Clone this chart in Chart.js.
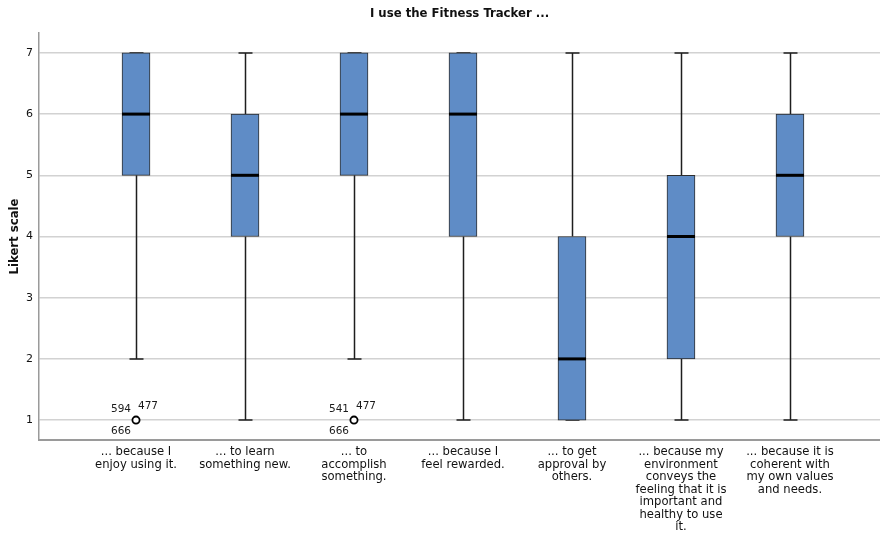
<!DOCTYPE html>
<html>
<head>
<meta charset="utf-8">
<script src="https://cdn.jsdelivr.net/npm/chart.js@4/dist/chart.umd.min.js"></script>
<style>
  html, body { margin: 0; padding: 0; background: #ffffff; }
  #wrap { width: 880px; height: 538px; }
</style>
</head>
<body>
<div id="wrap"><canvas id="c" width="880" height="538"></canvas></div>
<script>
// Item labels (multi-line) along the x axis
const categories = [
  ['... because I', 'enjoy using it.'],
  ['... to learn', 'something new.'],
  ['... to', 'accomplish', 'something.'],
  ['... because I', 'feel rewarded.'],
  ['... to get', 'approval by', 'others.'],
  ['... because my', 'environment', 'conveys the', 'feeling that it is', 'important and', 'healthy to use', 'it.'],
  ['... because it is', 'coherent with', 'my own values', 'and needs.']
];

// Five-number summaries per item
const whiskerLow  = [2, 1, 2, 1, 1, 1, 1];
const q1          = [5, 4, 5, 4, 1, 2, 4];
const median      = [6, 5, 6, 6, 2, 4, 5];
const q3          = [7, 6, 7, 7, 4, 5, 6];
const whiskerHigh = [7, 7, 7, 7, 7, 7, 7];

// Outliers: item index, value and case ids
const outlierCategory = [0, 2];
const outlierValue    = [1, 1];
const outlierIds      = [['594', '477', '666'], ['541', '477', '666']];

const yTicks = [1, 2, 3, 4, 5, 6, 7];

const boxData = categories.map((_, i) => ({ x: i, y: [q1[i], q3[i]] }));
const outlierData = outlierCategory.map((c, k) => ({ x: c, y: outlierValue[k] }));

// Whiskers, caps and medians drawn from the summary arrays
const boxExtras = {
  id: 'boxExtras',
  beforeDatasetsDraw(chart) {
    const { ctx, scales: { x, y } } = chart;
    ctx.save();
    ctx.strokeStyle = '#1e1e1e';
    ctx.lineWidth = 1.5;
    const capHalf = 7;
    categories.forEach((_, i) => {
      const px = Math.round(x.getPixelForValue(i)) + 0.5;
      const yLo = y.getPixelForValue(whiskerLow[i]);
      const yQ1 = y.getPixelForValue(q1[i]);
      const yQ3 = y.getPixelForValue(q3[i]);
      const yHi = y.getPixelForValue(whiskerHigh[i]);
      ctx.beginPath();
      ctx.moveTo(px, yQ1); ctx.lineTo(px, yLo);
      ctx.moveTo(px, yQ3); ctx.lineTo(px, yHi);
      ctx.moveTo(px - capHalf, yLo); ctx.lineTo(px + capHalf, yLo);
      ctx.moveTo(px - capHalf, yHi); ctx.lineTo(px + capHalf, yHi);
      ctx.stroke();
    });
    ctx.restore();
  },
  afterDatasetsDraw(chart) {
    const { ctx, scales: { x, y } } = chart;
    ctx.save();
    ctx.strokeStyle = '#000000';
    ctx.lineWidth = 3;
    const half = 14;
    categories.forEach((_, i) => {
      const px = x.getPixelForValue(i);
      const ym = y.getPixelForValue(median[i]);
      ctx.beginPath();
      ctx.moveTo(px - half, ym); ctx.lineTo(px + half, ym);
      ctx.stroke();
    });
    // case ids around each outlier point
    ctx.fillStyle = '#1a1a1a';
    ctx.font = '10.5px "DejaVu Sans", sans-serif';
    ctx.textAlign = 'center';
    ctx.textBaseline = 'middle';
    const meta = chart.getDatasetMeta(1);
    meta.data.forEach((pt, k) => {
      const ids = outlierIds[k];
      ctx.fillText(ids[0], pt.x - 15, pt.y - 11);
      ctx.fillText(ids[1], pt.x + 12, pt.y - 13.5);
      ctx.fillText(ids[2], pt.x - 15, pt.y + 11);
    });
    ctx.restore();
  }
};

new Chart(document.getElementById('c'), {
  type: 'bar',
  data: {
    datasets: [
      {
        label: 'IQR',
        data: boxData,
        backgroundColor: '#5f8cc6',
        borderColor: '#2e2e2e',
        borderWidth: 1,
        borderSkipped: false,
        barThickness: 28,
        order: 2
      },
      {
        type: 'scatter',
        label: 'Outliers',
        data: outlierData,
        pointStyle: 'circle',
        pointRadius: 3.6,
        pointBackgroundColor: '#ffffff',
        pointBorderColor: '#000000',
        pointBorderWidth: 1.8,
        order: 1
      }
    ]
  },
  options: {
    responsive: false,
    animation: false,
    layout: { padding: 0, autoPadding: false },
    plugins: {
      legend: { display: false },
      tooltip: { enabled: false },
      title: {
        display: true,
        text: 'I use the Fitness Tracker ...',
        fullSize: false,
        color: '#111111',
        font: { family: '"Liberation Sans Narrow", "DejaVu Sans Condensed", sans-serif', size: 13, weight: 'bold', lineHeight: 1.2 },
        padding: { top: 6, bottom: 11.4 }
      }
    },
    scales: {
      x: {
        type: 'linear',
        offset: false,
        min: -0.89,
        max: 6.826,
        afterBuildTicks(scale) {
          scale.ticks = categories.map((_, i) => ({ value: i }));
        },
        afterFit(scale) {
          scale.height = 98;
          scale.paddingLeft = 0;
          scale.paddingRight = 0;
        },
        grid: { display: false, drawTicks: false },
        border: { display: true, color: '#9a9a9a', width: 2 },
        ticks: {
          autoSkip: false,
          maxRotation: 0,
          minRotation: 0,
          padding: 6,
          color: '#111111',
          font: { family: '"DejaVu Sans", sans-serif', size: 11.6, lineHeight: 1.08 },
          callback: (v) => categories[v]
        }
      },
      y: {
        min: 0.675,
        max: 7.325,
        afterBuildTicks(scale) {
          scale.ticks = yTicks.map(v => ({ value: v }));
        },
        afterFit(scale) { scale.width = 39; },
        grid: { color: '#d2d2d2', lineWidth: 1.5, drawTicks: false },
        border: { display: true, color: '#9a9a9a', width: 1.5 },
        ticks: {
          padding: 6,
          color: '#111111',
          font: { family: '"DejaVu Sans", sans-serif', size: 11 }
        },
        title: {
          display: true,
          text: 'Likert scale',
          color: '#111111',
          font: { family: '"Liberation Sans Narrow", "DejaVu Sans Condensed", sans-serif', size: 13, weight: 'bold', lineHeight: 1.2 },
          padding: { top: 7, bottom: 0 }
        }
      }
    }
  },
  plugins: [boxExtras]
});
</script>
</body>
</html>
